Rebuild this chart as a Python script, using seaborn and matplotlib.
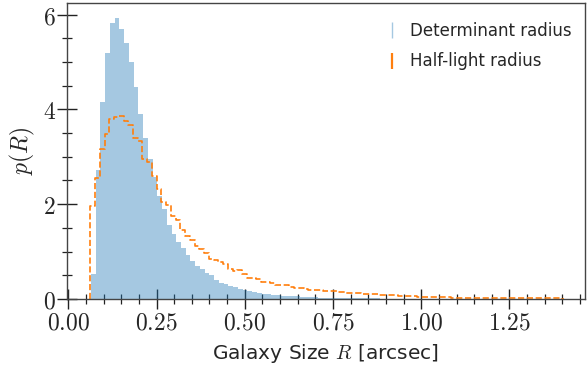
import numpy as np
import pandas as pd
import matplotlib
matplotlib.use("Agg")
import matplotlib.pyplot as plt
from matplotlib.ticker import MultipleLocator, FuncFormatter
from matplotlib.lines import Line2D
import seaborn as sns

# ---------------- data (densities) ----------------
bin_width = 0.01343
det_start = 0.0642
half_start = 0.0625

det_density = [
    0.53, 2.73, 4.15, 5.19, 5.82, 5.93, 5.69, 5.40, 5.00, 4.47,
    3.91, 3.40, 2.96, 2.58, 2.17, 1.89, 1.56, 1.38, 1.21, 1.07,
    0.93, 0.80, 0.70, 0.63, 0.55, 0.50, 0.40, 0.34, 0.31, 0.27,
    0.25, 0.22, 0.19, 0.16, 0.14, 0.12, 0.11, 0.10, 0.09, 0.08,
    0.07, 0.065, 0.06, 0.055, 0.05, 0.045, 0.04, 0.035, 0.03, 0.028,
    0.026, 0.024, 0.022, 0.020, 0.018, 0.017, 0.016, 0.014, 0.013, 0.012,
    0.011, 0.010, 0.009, 0.008, 0.008, 0.007, 0.006, 0.006, 0.005, 0.005,
    0.004, 0.004, 0.004, 0.003, 0.003, 0.003, 0.002, 0.002, 0.002, 0.002,
    0.0, 0.0, 0.0, 0.0, 0.0, 0.0, 0.0, 0.0, 0.0, 0.0,
    0.0, 0.0, 0.0, 0.0, 0.0, 0.0, 0.0, 0.0, 0.0, 0.0,
]

half_density = [
    1.96, 2.55, 3.16, 3.48, 3.80, 3.84, 3.87, 3.75, 3.68, 3.40,
    3.33, 2.96, 2.88, 2.60, 2.32, 2.05, 1.98, 1.75, 1.66, 1.45,
    1.33, 1.24, 1.12, 1.05, 0.98, 0.84, 0.82, 0.79, 0.73, 0.63,
    0.60, 0.62, 0.53, 0.45, 0.44, 0.42, 0.36, 0.35, 0.34, 0.30,
    0.30, 0.29, 0.26, 0.24, 0.23, 0.21, 0.20, 0.19, 0.18, 0.17,
    0.17, 0.16, 0.15, 0.14, 0.13, 0.13, 0.12, 0.11, 0.11, 0.10,
    0.10, 0.09, 0.09, 0.08, 0.08, 0.07, 0.07, 0.06, 0.06, 0.05,
    0.05, 0.045, 0.04, 0.04, 0.035, 0.035, 0.03, 0.03, 0.03, 0.025,
    0.025, 0.025, 0.02, 0.02, 0.02, 0.02, 0.018, 0.018, 0.016, 0.016,
    0.015, 0.015, 0.014, 0.014, 0.013, 0.013, 0.012, 0.012, 0.011, 0.010,
]

labels = ["Determinant radius", "Half-light radius"]
x_label = "Galaxy Size $R$ [arcsec]"
y_label = "$p(R)$"

# ---------------- build tables ----------------
det_edges = det_start + bin_width * np.arange(len(det_density) + 1)
half_edges = half_start + bin_width * np.arange(len(half_density) + 1)
det_df = pd.DataFrame({"R": (det_edges[:-1] + det_edges[1:]) / 2, "p": det_density})
half_df = pd.DataFrame({"R": (half_edges[:-1] + half_edges[1:]) / 2, "p": half_density})

# ---------------- style ----------------
sns.set_style("ticks")
plt.rcParams["font.family"] = ["DejaVu Sans"]
plt.rcParams["mathtext.fontset"] = "cm"

fig = plt.figure(figsize=(5.87, 3.74), dpi=100)
ax = fig.add_axes([0.1136, 0.2005, 0.9966 - 0.1136, 0.9928 - 0.2005])

sns.histplot(data=det_df, x="R", weights="p", bins=det_edges.tolist(), stat="count",
             color="C0", alpha=0.4, edgecolor="none", linewidth=0, ax=ax)
sns.histplot(data=half_df, x="R", weights="p", bins=half_edges.tolist(), stat="count",
             element="step", fill=False, color="C1", linestyle="--",
             linewidth=1.2, ax=ax)
# close the step outline down to the baseline on the left
line = ax.lines[-1]
xd, yd = line.get_data()
line.set_data(np.r_[xd[0], xd], np.r_[0.0, yd])

ax.set_xlim(-0.0045, 1.464)
ax.set_ylim(0, 6.25)

ax.xaxis.set_major_locator(MultipleLocator(0.25))
ax.xaxis.set_minor_locator(MultipleLocator(0.05))
ax.yaxis.set_major_locator(MultipleLocator(2))
ax.yaxis.set_minor_locator(MultipleLocator(0.5))
ax.xaxis.set_major_formatter(FuncFormatter(lambda v, p: f"${v:.2f}$"))
ax.yaxis.set_major_formatter(FuncFormatter(lambda v, p: f"${v:.0f}$"))

ax.tick_params(which="major", direction="inout", length=14, width=1.0,
               color="#222222", labelsize=17, pad=1)
ax.tick_params(which="minor", direction="inout", length=7, width=0.9,
               color="#222222")
for s in ax.spines.values():
    s.set_color("#444444")
    s.set_linewidth(1.0)

ax.set_xlabel(x_label, fontsize=14.5, labelpad=6)
ax.set_ylabel(y_label, fontsize=17, labelpad=4)

handles = [
    Line2D([], [], marker="|", linestyle="none", markersize=11, mew=1.0,
           color="C0", alpha=0.4),
    Line2D([], [], marker="|", linestyle="none", markersize=11, mew=1.6,
           color="C1"),
]
ax.legend(handles, labels, loc="upper right", bbox_to_anchor=(1.0, 0.98),
          frameon=False, fontsize=12, handlelength=1.0, handletextpad=0.6,
          borderaxespad=0.4, labelspacing=0.75)

fig.savefig("out.png", dpi=100)
